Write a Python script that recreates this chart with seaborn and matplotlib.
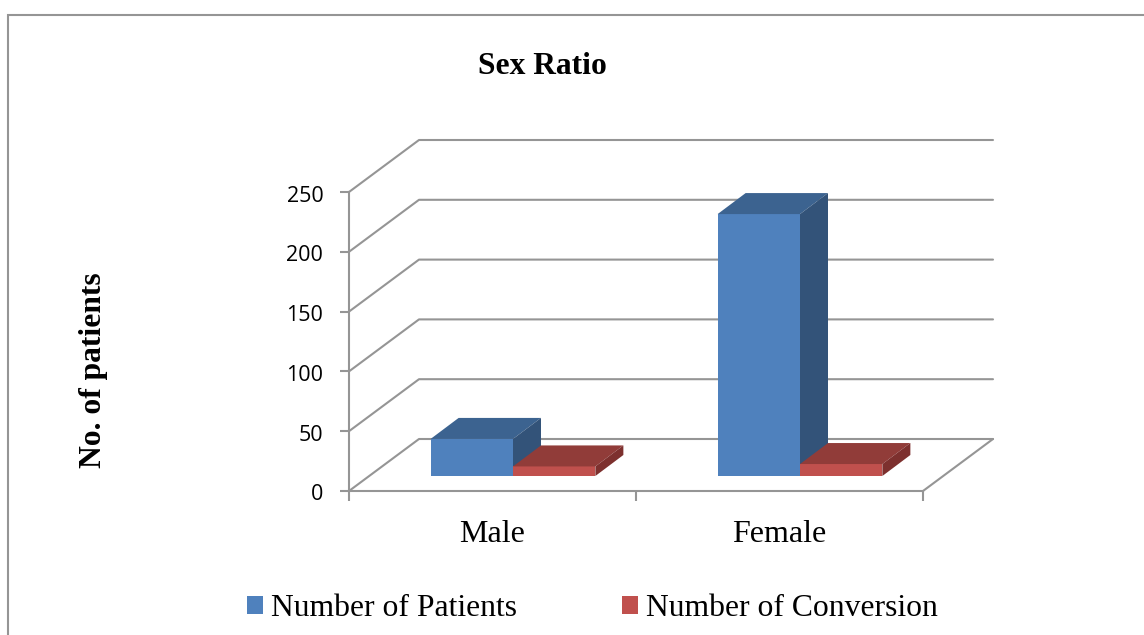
import matplotlib
matplotlib.use("Agg")
import matplotlib.pyplot as plt
from matplotlib.patches import Rectangle
from matplotlib.transforms import ScaledTranslation
import pandas as pd
import seaborn as sns

genders = ["Male", "Female"]
patients = [31, 219]
conversions = [8, 10]
series_names = ["Number of Patients", "Number of Conversion"]
yticks = [0, 50, 100, 150, 200, 250]

W, H = 1144, 635
blue = "#4F81BD"
red = "#C0504D"
tops = ["#3C6390", "#913C39"]
sides = ["#335379", "#7D302E"]
grid = "#959595"
serif = "Liberation Serif"

df = pd.DataFrame({
    "gender": genders * 2,
    "series": [series_names[0]] * 2 + [series_names[1]] * 2,
    "count": patients + conversions,
})

sns.set_theme(style="white")
plt.rcParams["font.family"] = "Open Sans"

fig = plt.figure(figsize=(W / 100, H / 100), dpi=100, facecolor="white")
ax = fig.add_axes([349 / W, 1 - 491 / H, 574 / W, 299 / H])

sns.barplot(data=df, x="gender", y="count", hue="series", hue_order=series_names,
            palette=[blue, red], width=0.574, linewidth=0, saturation=1, ax=ax, zorder=3)
ax.set_xlim(-0.5, 1.5)
ax.set_ylim(0, 250)

# pixel sizes of the fake 3d, turned into data units
px_x = 2 / 574
px_y = 250 / 299
wall_dx, wall_dy = 70 * px_x, 52 * px_y
gap_dx, gap_dy = 20.5 * px_x, 15 * px_y
deep_dx, deep_dy = 28 * px_x, 21 * px_y

# back wall and left wall grid
for t in yticks:
    ax.plot([-0.5, -0.5 + wall_dx, 1.5 + wall_dx], [t, t + wall_dy, t + wall_dy],
            color=grid, lw=1.5, clip_on=False, zorder=1)
ax.plot([1.5, 1.5 + wall_dx], [0, wall_dy], color=grid, lw=1.5, clip_on=False, zorder=1)

# move the bars to mid depth and add top and side faces
n = len(genders)
bars = sorted(ax.patches[:2 * n], key=lambda b: b.get_x())
for i, bar in enumerate(bars):
    s = i % 2
    bar.set_x(bar.get_x() + gap_dx)
    bar.set_y(gap_dy)
    bar.set_zorder(3 + i)
    x0, x1 = bar.get_x(), bar.get_x() + bar.get_width()
    y0, y1 = bar.get_y(), bar.get_y() + bar.get_height()
    ax.fill([x0, x1, x1 + deep_dx, x0 + deep_dx],
            [y1, y1, y1 + deep_dy, y1 + deep_dy],
            color=tops[s], lw=0, clip_on=False, zorder=3 + i)
    ax.fill([x1, x1 + deep_dx, x1 + deep_dx, x1],
            [y0, y0 + deep_dy, y1 + deep_dy, y1],
            color=sides[s], lw=0, clip_on=False, zorder=3 + i)
    bar.set_clip_on(False)

for name in ["top", "right"]:
    ax.spines[name].set_visible(False)
for name in ["left", "bottom"]:
    ax.spines[name].set_color(grid)
    ax.spines[name].set_linewidth(1.5)

ax.set_yticks(yticks)
ax.tick_params(axis="y", left=True, length=6.5, width=1.5, color=grid, pad=12,
               labelsize=15.5, labelcolor="black")
# labels sit a little under their ticks in the original
nudge = ScaledTranslation(0, -1.5 / 100, fig.dpi_scale_trans)
for lab in ax.get_yticklabels():
    lab.set_transform(lab.get_transform() + nudge)

ax.set_xticks([0, 1], genders, family=serif, fontsize=23, color="black")
ax.set_xticks([-0.5, 0.5, 1.5], minor=True)
ax.tick_params(axis="x", which="major", bottom=False, pad=14.7)
ax.tick_params(axis="x", which="minor", bottom=True, length=7, width=1.5, color=grid)

ax.set_xlabel("")
ax.set_ylabel("No. of patients", family=serif, fontsize=22.7, fontweight="bold", color="black")
ax.yaxis.set_label_coords((108 - 349) / 574, (491 - 370) / 299)
ax.set_title("Sex Ratio", family=serif, fontsize=22.7, fontweight="bold", color="black",
             x=(542 - 349) / 574, y=(491 - 74) / 299, pad=0)

handles, labels = ax.get_legend_handles_labels()
ax.legend(handles, labels, ncol=2, loc="center", frameon=False, borderpad=0, borderaxespad=0,
          prop={"family": serif, "size": 22.8}, labelcolor="black",
          handlelength=0.507, handleheight=0.507, handletextpad=0.25, columnspacing=3.3,
          bbox_to_anchor=(592.5 / W, 1 - 609 / H), bbox_transform=fig.transFigure)

# chart frame, only top and left edges fall inside the picture
fig.add_artist(Rectangle((8 / W, -20 / H), (W + 20) / W, (H + 20 - 15) / H,
                         transform=fig.transFigure, fill=False, ec=grid, lw=1.5))

fig.savefig("out.png", dpi=100)
